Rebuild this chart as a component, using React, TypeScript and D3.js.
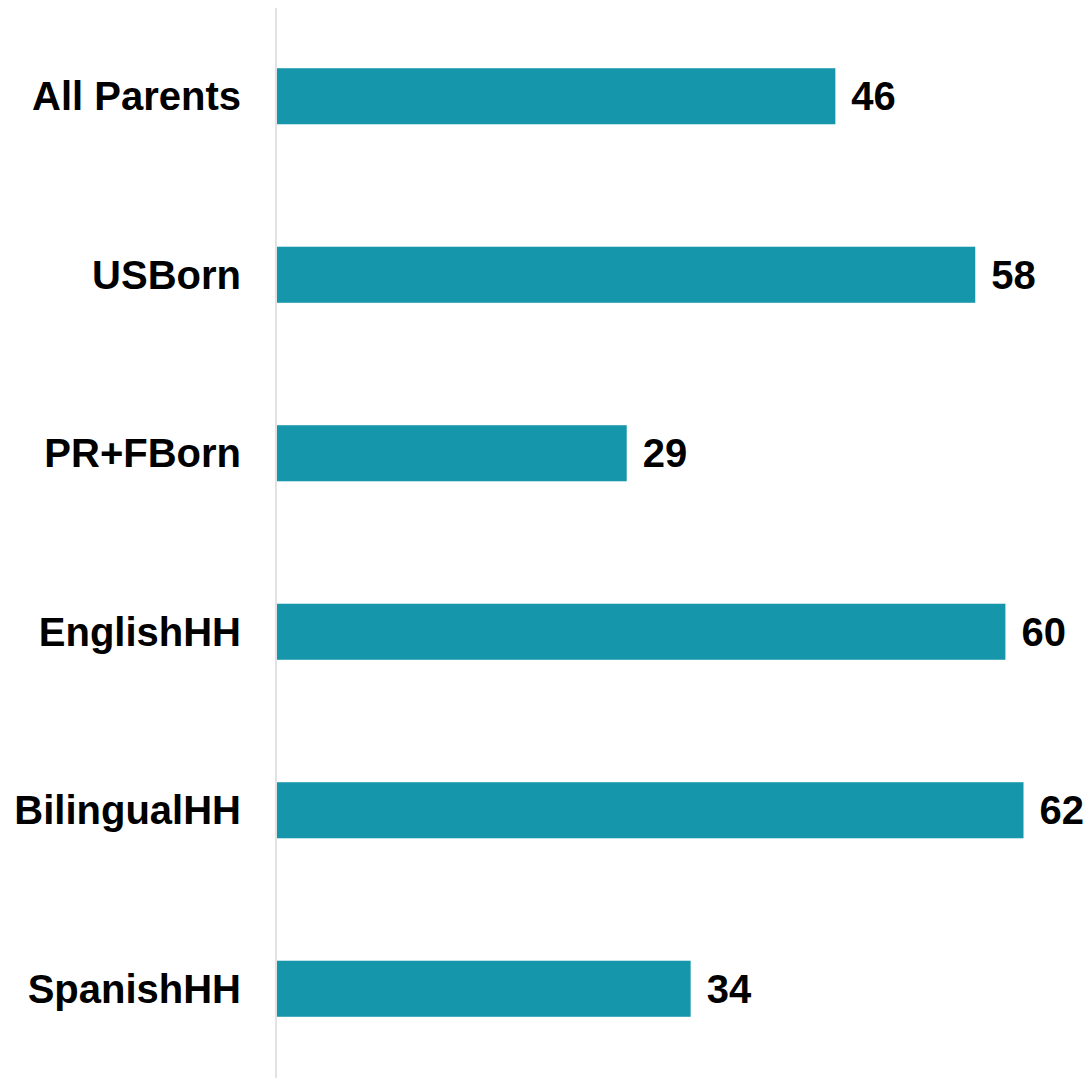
import { useEffect, useRef } from 'react';
import * as d3 from 'd3';

const categories = ['All Parents', 'USBorn', 'PR+FBorn', 'EnglishHH', 'BilingualHH', 'SpanishHH'];
// labels show rounded values
const values = [46.3, 57.9, 29.0, 60.4, 61.9, 34.3];

function BarChart() {
  const svgRef = useRef<SVGSVGElement | null>(null);
  const width = 1086;
  const height = 1078;
  const margin = { top: 7, right: 61.3, bottom: 0, left: 277 };

  useEffect(() => {
    const svg = d3.select(svgRef.current);
    svg.selectAll('*').remove();

    const yScale = d3
      .scaleBand<string>()
      .domain(categories)
      .range([margin.top, height - margin.bottom])
      .paddingInner(0.686)
      .paddingOuter(0.343);

    const xScale = d3
      .scaleLinear()
      .domain([0, 62])
      .range([margin.left, width - margin.right]);

    const rows = categories.map((c, i) => ({ cat: c, val: values[i] }));

    svg
      .append('line')
      .attr('x1', margin.left - 1)
      .attr('x2', margin.left - 1)
      .attr('y1', 8)
      .attr('y2', height)
      .attr('stroke', '#d9d9d9')
      .attr('stroke-width', 1.5);

    svg
      .append('g')
      .selectAll('rect')
      .data(rows)
      .join('rect')
      .attr('x', xScale(0))
      .attr('y', (d) => yScale(d.cat) as number)
      .attr('width', (d) => xScale(d.val) - xScale(0))
      .attr('height', yScale.bandwidth())
      .attr('fill', '#1696ab');

    const font = '"Liberation Sans", Arial, sans-serif';

    svg
      .append('g')
      .selectAll('text')
      .data(rows)
      .join('text')
      .attr('x', margin.left - 36)
      .attr('y', (d) => (yScale(d.cat) as number) + yScale.bandwidth() / 2)
      .attr('dy', '0.35em')
      .attr('text-anchor', 'end')
      .attr('font-family', font)
      .attr('font-weight', 'bold')
      .attr('font-size', 40)
      .attr('fill', '#000')
      .text((d) => d.cat);

    svg
      .append('g')
      .selectAll('text')
      .data(rows)
      .join('text')
      .attr('x', (d) => xScale(d.val) + 16)
      .attr('y', (d) => (yScale(d.cat) as number) + yScale.bandwidth() / 2)
      .attr('dy', '0.35em')
      .attr('font-family', font)
      .attr('font-weight', 'bold')
      .attr('font-size', 40)
      .attr('fill', '#000')
      .text((d) => Math.round(d.val));
  }, []);

  return (
    <svg
      ref={svgRef}
      width={width}
      height={height}
      style={{ position: 'absolute', left: 0, top: 0, display: 'block' }}
    />
  );
}

export default function App() {
  return <BarChart />;
}
